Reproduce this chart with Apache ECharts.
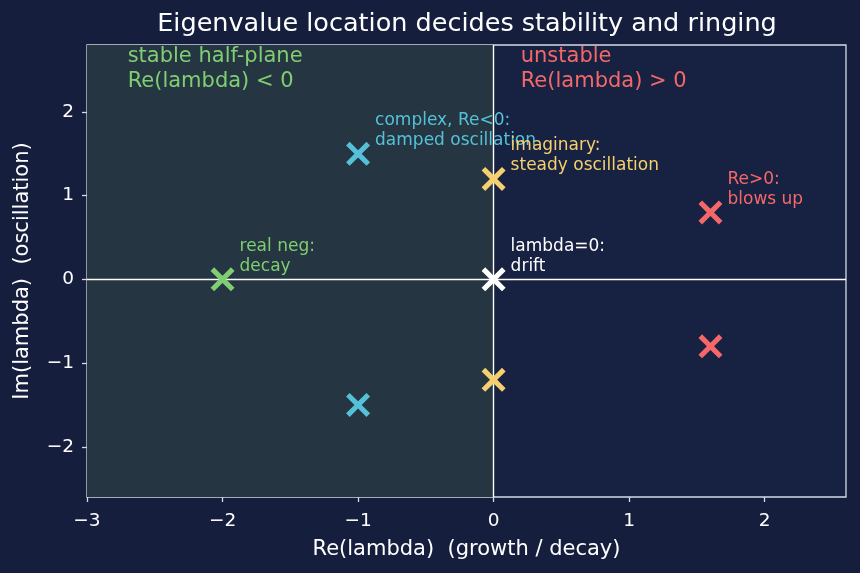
<!DOCTYPE html>
<html>
<head>
<meta charset="utf-8">
<script src="https://cdn.jsdelivr.net/npm/echarts@6/dist/echarts.min.js"></script>
<style>
  html, body { margin: 0; padding: 0; background: #161e3e; }
  #chart { width: 860px; height: 573px; }
</style>
</head>
<body>
<div id="chart"></div>
<script>
// eigenvalues, grouped by kind: [re, im]
const realNeg = [[-2, 0]]
const complexNeg = [[-1, 1.5], [-1, -1.5]]
const imaginary = [[0, 1.2], [0, -1.2]]
const origin = [[0, 0]]
const unstable = [[1.6, 0.8], [1.6, -0.8]]

const groupNotes = ['real neg:\ndecay', 'complex, Re<0:\ndamped oscillation', 'imaginary:\nsteady oscillation', 'lambda=0:\ndrift', 'Re>0:\nblows up']
const groupColors = ['#7fcf72', '#55c1d8', '#f6d06e', '#ffffff', '#f4686a']

const xTicks = [-3, -2, -1, 0, 1, 2]
const yTicks = [-2, -1, 0, 1, 2]

const FONT = '"DejaVu Sans", "Liberation Sans", sans-serif'
const CROSS = 'path://M0,1.5L1.5,0L5,3.5L8.5,0L10,1.5L6.5,5L10,8.5L8.5,10L5,6.5L1.5,10L0,8.5L3.5,5Z'
const fmt = v => String(v).replace('-', '\u2212')

const groups = [realNeg, complexNeg, imaginary, origin, unstable]

const pointSeries = groups.map((pts, g) => ({
  type: 'scatter',
  symbol: CROSS,
  symbolSize: 24,
  z: 5,
  itemStyle: { color: groupColors[g], opacity: 1 },
  data: pts.map((p, i) => ({
    value: p,
    label: i === 0 ? {
      show: true,
      position: 'inside',
      align: 'left',
      verticalAlign: 'bottom',
      offset: [17, -3],
      formatter: groupNotes[g],
      color: groupColors[g],
      fontFamily: FONT,
      fontSize: 17,
      lineHeight: 20,
    } : { show: false },
  })),
}))

const option = {
  backgroundColor: '#161e3e',
  animation: false,
  title: {
    text: 'Eigenvalue location decides stability and ringing',
    left: 462, top: 6, textAlign: 'center',
    textStyle: { color: '#ffffff', fontFamily: FONT, fontSize: 25.5, fontWeight: 'normal' },
  },
  grid: {
    left: 87, right: 14, top: 45, bottom: 76,
    show: true, backgroundColor: '#172141', borderColor: '#d4dae6', borderWidth: 1.3,
  },
  xAxis: {
    type: 'value', min: -3, max: 2.6,
    name: 'Re(lambda)  (growth / decay)', nameLocation: 'middle', nameGap: 42,
    nameTextStyle: { color: '#ffffff', fontFamily: FONT, fontSize: 21 },
    axisLine: { show: false, onZero: false },
    axisTick: { show: true, customValues: xTicks, length: 5, lineStyle: { color: '#d4dae6', width: 1.3 } },
    axisLabel: { customValues: xTicks, formatter: fmt, color: '#ffffff', fontFamily: FONT, fontSize: 18.5, margin: 15 },
    splitLine: { show: false },
  },
  yAxis: {
    type: 'value', min: -2.6, max: 2.8,
    name: 'Im(lambda)  (oscillation)', nameLocation: 'middle', nameGap: 54,
    nameTextStyle: { color: '#ffffff', fontFamily: FONT, fontSize: 21 },
    axisLine: { show: false, onZero: false },
    axisTick: { show: true, customValues: yTicks, length: 5, lineStyle: { color: '#d4dae6', width: 1.3 } },
    axisLabel: { customValues: yTicks, formatter: fmt, color: '#ffffff', fontFamily: FONT, fontSize: 18.5, margin: 13 },
    splitLine: { show: false },
  },
  series: [
    {
      type: 'scatter',
      data: [],
      z: 1,
      markArea: {
        silent: true,
        itemStyle: { color: '#253642', opacity: 1 },
        data: [[{ coord: [-3, -2.6] }, { coord: [0, 2.8] }]],
      },
      markLine: {
        silent: true,
        symbol: 'none',
        label: { show: false },
        lineStyle: { color: '#ffffff', width: 1.4, type: 'solid', opacity: 1 },
        data: [{ xAxis: 0 }, { yAxis: 0 }],
      },
    },
    {
      type: 'scatter',
      symbolSize: 0,
      z: 4,
      itemStyle: { opacity: 1 },
      data: [
        { value: [-2.7, 2.22], label: { formatter: 'stable half-plane\nRe(lambda) < 0', color: '#7fcf72' } },
        { value: [0.2, 2.22], label: { formatter: 'unstable\nRe(lambda) > 0', color: '#f4686a' } },
      ],
      label: {
        show: true, position: 'inside', align: 'left', verticalAlign: 'bottom',
        fontFamily: FONT, fontSize: 21, lineHeight: 24.5,
      },
    },
    ...pointSeries,
  ],
}

const chart = echarts.init(document.getElementById('chart'))
chart.setOption(option)
</script>
</body>
</html>
